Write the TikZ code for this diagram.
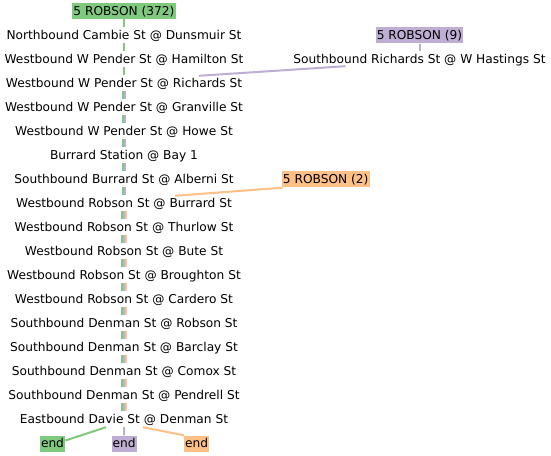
\documentclass[tikz,border=0pt]{standalone}
\usepackage{fontspec}
\setmainfont{DejaVu Sans}
\definecolor{cg}{HTML}{7FC97F}
\definecolor{cp}{HTML}{BEAED4}
\definecolor{co}{HTML}{FDC086}
\begin{document}
\begin{tikzpicture}[x=1bp,y=-1bp,
  stop/.style={inner sep=0pt, minimum height=16bp, font=\fontsize{12.2bp}{14bp}\selectfont, text height=10.6bp, text depth=2bp},
  lbl/.style={stop, inner xsep=1.2bp, fill=#1},
  eg/.style={draw=cg, line width=2bp},
  ep/.style={draw=cp, line width=2bp},
  eo/.style={draw=co, line width=2bp}]
\useasboundingbox[fill=white] (0,0) rectangle (551,456);
% route origins
\node[lbl=cg] (s0) at (124,11) {5 ROBSON (372)};
\node[lbl=cp] (r9) at (419.5,35.5) {5 ROBSON (9)};
\node[stop] (shr) at (419.5,59) {Southbound Richards St @ W Hastings St};
\node[lbl=co] (r2) at (325.7,179.5) {5 ROBSON (2)};
% stops
\node[stop] (s1) at (124,35) {Northbound Cambie St @ Dunsmuir St};
\node[stop] (s2) at (124,59) {Westbound W Pender St @ Hamilton St};
\node[stop] (s3) at (124,83) {Westbound W Pender St @ Richards St};
\node[stop] (s4) at (124,107) {Westbound W Pender St @ Granville St};
\node[stop] (s5) at (124,131) {Westbound W Pender St @ Howe St};
\node[stop] (s6) at (124,155) {Burrard Station @ Bay 1};
\node[stop] (s7) at (124,179) {Southbound Burrard St @ Alberni St};
\node[stop] (s8) at (124,203) {Westbound Robson St @ Burrard St};
\node[stop] (s9) at (124,227) {Westbound Robson St @ Thurlow St};
\node[stop] (s10) at (124,251) {Westbound Robson St @ Bute St};
\node[stop] (s11) at (124,275) {Westbound Robson St @ Broughton St};
\node[stop] (s12) at (124,299) {Westbound Robson St @ Cardero St};
\node[stop] (s13) at (124,323) {Southbound Denman St @ Robson St};
\node[stop] (s14) at (124,347) {Southbound Denman St @ Barclay St};
\node[stop] (s15) at (124,371) {Southbound Denman St @ Comox St};
\node[stop] (s16) at (124,395) {Southbound Denman St @ Pendrell St};
\node[stop] (s17) at (124,419) {Eastbound Davie St @ Denman St};
% ends
\node[lbl=cg] (ge) at (52.5,443.5) {end};
\node[lbl=cp] (pe) at (124.2,443.5) {end};
\node[lbl=co] (oe) at (196.7,443.5) {end};
% edges
\foreach \a/\b in {0/1,1/2,2/3}
  \draw[eg] (s\a.south) -- (s\b.north);
\foreach \a/\b in {3/4,4/5,5/6,6/7,7/8} {
  \draw[eg] ([xshift=-1bp]s\a.south) -- ([xshift=-1bp]s\b.north);
  \draw[ep] ([xshift=1bp]s\a.south) -- ([xshift=1bp]s\b.north);
}
\foreach \a/\b in {8/9,9/10,10/11,11/12,12/13,13/14,14/15,15/16,16/17} {
  \draw[eg] ([xshift=-2bp]s\a.south) -- ([xshift=-2bp]s\b.north);
  \draw[ep] (s\a.south) -- (s\b.north);
  \draw[eo] ([xshift=2bp]s\a.south) -- ([xshift=2bp]s\b.north);
}
\draw[ep] (r9.south) -- (shr.north);
\draw[ep] ([xshift=-74bp,yshift=1bp]shr.south) -- ([xshift=75bp,yshift=-1bp]s3.north);
\draw[eo] ([xshift=1bp]r2.south west) -- ([xshift=51bp,yshift=-1bp]s8.north);
\draw[eg] ([xshift=-18bp]s17.south) -- ([yshift=3bp]ge.east);
\draw[ep] (s17.south) -- (pe.north);
\draw[eo] ([xshift=19bp]s17.south) -- (oe.north west);
\end{tikzpicture}
\end{document}
